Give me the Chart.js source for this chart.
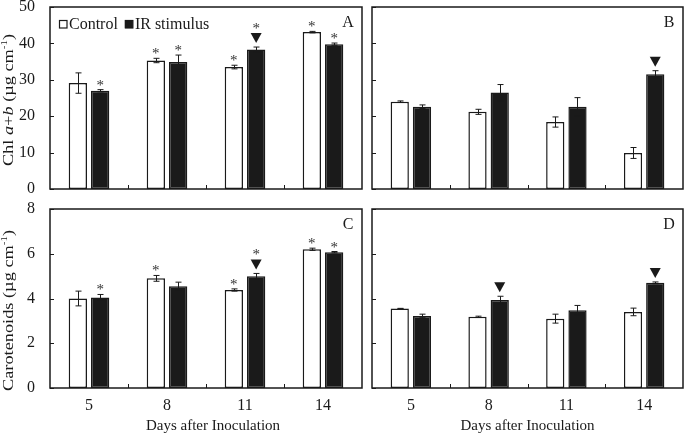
<!DOCTYPE html>
<html>
<head>
<meta charset="utf-8">
<script src="https://cdn.jsdelivr.net/npm/chart.js@4.4.1/dist/chart.umd.min.js"></script>
<style>
html, body { margin: 0; padding: 0; background: #fff; }
#wrap { position: relative; width: 685px; height: 434px; }
.panel { position: absolute; }
</style>
</head>
<body>
<div id="wrap">
    <div class="panel" style="left:0;top:0;width:365px;height:198px"><canvas id="chart-a"></canvas></div>
    <div class="panel" style="left:365px;top:0;width:320px;height:198px"><canvas id="chart-b"></canvas></div>
    <div class="panel" style="left:0;top:198px;width:365px;height:236px"><canvas id="chart-c"></canvas></div>
    <div class="panel" style="left:365px;top:198px;width:320px;height:236px"><canvas id="chart-d"></canvas></div>
</div>
<script>
// Dias despues de la inoculacion
const days = ["5", "8", "11", "14"];

// Clorofila a+b (panel A y B)
const chlCtrlA = [29.1, 35.3, 33.5, 43.1];
const chlCtrlAErr = [2.8, 0.6, 0.5, 0.2];
const chlIrA = [27.0, 34.9, 38.3, 39.8];
const chlIrAErr = [0.3, 1.9, 0.7, 0.3];

const chlCtrlB = [24.0, 21.2, 18.4, 9.9];
const chlCtrlBErr = [0.2, 0.7, 1.4, 1.5];
const chlIrB = [22.6, 26.5, 22.6, 31.5];
const chlIrBErr = [0.5, 2.2, 2.5, 1.0];

// Carotenoides (panel C y D)
const carCtrlC = [4.0, 4.9, 4.38, 6.2];
const carCtrlCErr = [0.33, 0.13, 0.05, 0.05];
const carIrC = [4.05, 4.55, 5.0, 6.07];
const carIrCErr = [0.13, 0.18, 0.12, 0.03];

const carCtrlD = [3.55, 3.18, 3.1, 3.4];
const carCtrlDErr = [0.01, 0.03, 0.2, 0.17];
const carIrD = [3.22, 3.93, 3.47, 4.7];
const carIrDErr = [0.08, 0.17, 0.22, 0.04];

// marcas de significancia (1 = si)
const starCtrlA = [0, 1, 1, 1], starIrA = [1, 1, 1, 1], triIrA = [0, 0, 1, 0];
const starCtrlB = [0, 0, 0, 0], starIrB = [0, 0, 0, 0], triIrB = [0, 0, 0, 1];
const starCtrlC = [0, 1, 1, 1], starIrC = [1, 0, 1, 1], triIrC = [0, 0, 1, 0];
const starCtrlD = [0, 0, 0, 0], starIrD = [0, 0, 0, 0], triIrD = [0, 1, 0, 1];

const FONT = "'Liberation Serif', 'Times New Roman', serif";
const INK = "#1a1a1a";

function drawRuns(ctx, runs, size) {
    // mide y dibuja texto con partes en cursiva / superindice
    const fontOf = (st) => st === "italic" ? `italic ${size}px ${FONT}`
        : st === "sup" ? `${Math.round(size * 0.62)}px ${FONT}` : `${size}px ${FONT}`;
    let total = 0;
    runs.forEach(([t, st]) => { ctx.font = fontOf(st); total += ctx.measureText(t).width; });
    let x = -total / 2;
    runs.forEach(([t, st]) => {
        ctx.font = fontOf(st);
        ctx.fillText(t, x, st === "sup" ? -6 : 0);
        x += ctx.measureText(t).width;
    });
}

const decorPlugin = {
    id: "decor",
    afterDatasetsDraw(chart, args, opts) {
        const ctx = chart.ctx;
        const y = chart.scales.y;
        ctx.save();
        ctx.strokeStyle = INK;
        ctx.fillStyle = INK;
        ctx.lineWidth = 1;
        chart.data.datasets.forEach((ds, d) => {
            const meta = chart.getDatasetMeta(d);
            meta.data.forEach((el, i) => {
                const v = ds.data[i], e = opts.errs[d][i];
                const x = Math.round(el.x) + 0.5;
                const yT = y.getPixelForValue(v + e), yB = y.getPixelForValue(v - e);
                ctx.beginPath();
                ctx.moveTo(x, yB); ctx.lineTo(x, yT);
                ctx.moveTo(x - 3, yT); ctx.lineTo(x + 3, yT);
                ctx.moveTo(x - 3, yB); ctx.lineTo(x + 3, yB);
                ctx.stroke();
                let top = Math.min(yT, y.getPixelForValue(v));
                if (opts.tris[d][i]) {
                    ctx.beginPath();
                    ctx.moveTo(el.x - 5.5, top - 14);
                    ctx.lineTo(el.x + 5.5, top - 14);
                    ctx.lineTo(el.x, top - 4);
                    ctx.closePath();
                    ctx.fill();
                    top -= 14;
                }
                if (opts.stars[d][i]) {
                    ctx.save();
                    ctx.fillStyle = "#333";
                    ctx.font = `15px ${FONT}`;
                    ctx.textAlign = "center";
                    ctx.textBaseline = "alphabetic";
                    ctx.fillText("*", el.x, top);
                    ctx.restore();
                }
            });
        });
        ctx.restore();
    },
    afterDraw(chart, args, opts) {
        const ctx = chart.ctx;
        const a = chart.chartArea;
        const xs = chart.scales.x, ys = chart.scales.y;
        ctx.save();
        ctx.strokeStyle = INK;
        ctx.fillStyle = INK;
        // marco
        ctx.lineWidth = 1.5;
        ctx.strokeRect(a.left, a.top, a.right - a.left, a.bottom - a.top);
        // marcas hacia adentro
        ctx.lineWidth = 1;
        ys.ticks.forEach((t) => {
            const py = Math.round(ys.getPixelForValue(t.value)) + 0.5;
            ctx.beginPath(); ctx.moveTo(a.left, py); ctx.lineTo(a.left + 4, py); ctx.stroke();
        });
        for (let i = 1; i < days.length; i++) {
            const px = Math.round((xs.getPixelForTick(i - 1) + xs.getPixelForTick(i)) / 2) + 0.5;
            ctx.beginPath(); ctx.moveTo(px, a.bottom); ctx.lineTo(px, a.bottom - 4); ctx.stroke();
        }
        // letra del panel
        ctx.font = `16px ${FONT}`;
        ctx.textAlign = "center";
        ctx.textBaseline = "middle";
        ctx.fillText(opts.label, a.right - 14, a.top + 16);
        // titulo eje y (algo estirado a lo largo, como en la figura original)
        if (opts.ytitle) {
            ctx.save();
            ctx.translate(13, (a.top + a.bottom) / 2 + opts.yshift);
            ctx.rotate(-Math.PI / 2);
            ctx.scale(1.22, 1);
            ctx.textAlign = "left";
            ctx.textBaseline = "alphabetic";
            drawRuns(ctx, opts.ytitle, 15);
            ctx.restore();
        }
        // titulo eje x
        if (opts.xtitle) {
            ctx.font = `15px ${FONT}`;
            ctx.textAlign = "center";
            ctx.textBaseline = "alphabetic";
            ctx.fillText(opts.xtitle, (a.left + a.right) / 2 + opts.xshift, 430 - 198);
        }
        // leyenda dentro del panel
        if (opts.legend) {
            let lx = a.left + 9;
            const ly = a.top + 13;
            ctx.font = `16px ${FONT}`;
            ctx.textAlign = "left";
            ctx.textBaseline = "alphabetic";
            chart.data.datasets.forEach((ds) => {
                ctx.fillStyle = ds.backgroundColor;
                ctx.fillRect(lx, ly, 8, 8);
                ctx.lineWidth = 1.2;
                ctx.strokeRect(lx + 0.5, ly + 0.5, 7.5, 7.5);
                ctx.fillStyle = INK;
                ctx.fillText(ds.label, lx + 10, ly + 8.5);
                lx += 10 + ctx.measureText(ds.label).width + 7;
            });
        }
        ctx.restore();
    },
};

function crearPanel(id, cfg) {
    const ctx = document.getElementById(id).getContext("2d");
    return new Chart(ctx, {
        type: "bar",
        data: {
            labels: days,
            datasets: [
                {
                    label: "Control",
                    data: cfg.ctrl,
                    backgroundColor: "#ffffff",
                    borderColor: INK,
                    borderWidth: 1.5,
                    borderSkipped: false,
                    categoryPercentage: 0.572,
                    barPercentage: 0.82,
                },
                {
                    label: "IR stimulus",
                    data: cfg.ir,
                    backgroundColor: "#1a1a1a",
                    borderColor: INK,
                    borderWidth: 1.5,
                    borderSkipped: false,
                    categoryPercentage: 0.572,
                    barPercentage: 0.82,
                },
            ],
        },
        options: {
            responsive: true,
            maintainAspectRatio: false,
            animation: false,
            layout: { padding: cfg.padding },
            plugins: {
                legend: { display: false },
                tooltip: { enabled: false },
                decor: cfg.decor,
            },
            scales: {
                x: {
                    grid: { display: false },
                    border: { display: false },
                    ticks: { display: cfg.xLabels, color: INK, font: { family: FONT, size: 16 }, padding: 0 },
                    afterFit: (s) => { s.height = cfg.xHeight; s.paddingLeft = 0; s.paddingRight = 0; },
                },
                y: {
                    min: 0,
                    max: cfg.max,
                    grid: { display: false },
                    border: { display: false },
                    ticks: { display: cfg.yLabels, stepSize: cfg.step, color: INK, font: { family: FONT, size: 16 }, padding: 7 },
                    afterFit: (s) => { s.width = cfg.yWidth; s.paddingTop = 0; s.paddingBottom = 0; },
                },
            },
        },
        plugins: [decorPlugin],
    });
}

const tituloChl = [["Chl ", "n"], ["a", "italic"], ["+", "n"], ["b", "italic"], [" (\u00b5g cm", "n"], ["-1", "sup"], [")", "n"]];
const tituloCar = [["Carotenoids (\u00b5g cm", "n"], ["-1", "sup"], [")", "n"]];

crearPanel("chart-a", {
    ctrl: chlCtrlA, ir: chlIrA, max: 50, step: 10,
    padding: { top: 7, right: 3, left: 0, bottom: 0 },
    xHeight: 9, yWidth: 50, xLabels: false, yLabels: true,
    decor: { errs: [chlCtrlAErr, chlIrAErr], stars: [starCtrlA, starIrA], tris: [[0, 0, 0, 0], triIrA],
        label: "A", ytitle: tituloChl, yshift: 2, legend: true },
});
crearPanel("chart-b", {
    ctrl: chlCtrlB, ir: chlIrB, max: 50, step: 10,
    padding: { top: 7, right: 2, left: 0, bottom: 0 },
    xHeight: 9, yWidth: 7, xLabels: false, yLabels: false,
    decor: { errs: [chlCtrlBErr, chlIrBErr], stars: [starCtrlB, starIrB], tris: [[0, 0, 0, 0], triIrB],
        label: "B" },
});
crearPanel("chart-c", {
    ctrl: carCtrlC, ir: carIrC, max: 8, step: 2,
    padding: { top: 11, right: 3, left: 0, bottom: 0 },
    xHeight: 46, yWidth: 50, xLabels: true, yLabels: true,
    decor: { errs: [carCtrlCErr, carIrCErr], stars: [starCtrlC, starIrC], tris: [[0, 0, 0, 0], triIrC],
        label: "C", ytitle: tituloCar, yshift: 12, xtitle: "Days after Inoculation", xshift: 7 },
});
crearPanel("chart-d", {
    ctrl: carCtrlD, ir: carIrD, max: 8, step: 2,
    padding: { top: 11, right: 2, left: 0, bottom: 0 },
    xHeight: 46, yWidth: 7, xLabels: true, yLabels: false,
    decor: { errs: [carCtrlDErr, carIrDErr], stars: [starCtrlD, starIrD], tris: [[0, 0, 0, 0], triIrD],
        label: "D", xtitle: "Days after Inoculation", xshift: 0 },
});
</script>
</body>
</html>
